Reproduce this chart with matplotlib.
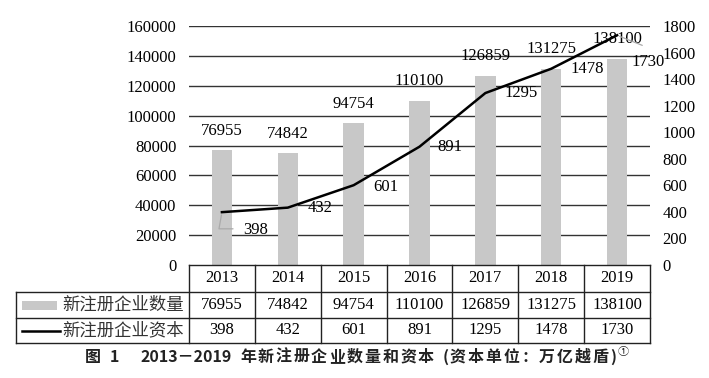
import matplotlib
matplotlib.use("Agg")
import matplotlib.pyplot as plt
from matplotlib.transforms import blended_transform_factory
from matplotlib.lines import Line2D
from matplotlib.patches import Rectangle

years = ["2013", "2014", "2015", "2016", "2017", "2018", "2019"]
firms = [76955, 74842, 94754, 110100, 126859, 131275, 138100]
capital = [398, 432, 601, 891, 1295, 1478, 1730]
left_ticks = [0, 20000, 40000, 60000, 80000, 100000, 120000, 140000, 160000]
right_ticks = [0, 200, 400, 600, 800, 1000, 1200, 1400, 1600, 1800]
series_names = ["新注册企业数量", "新注册企业资本"]
caption_tokens = ["图", " ", "1", " ", " ", " ", "2013－2019", " ", "年", "新", "注", "册", "企", "业",
                  "数", "量", "和", "资", "本", " ", "(", "资", "本", "单", "位", "：", "万", "亿",
                  "越", "盾", ")"]

W, H = 709, 378
SERIF = ["Liberation Serif", "DejaVu Serif"]
CJK = ["Noto Sans CJK SC", "DejaVu Sans"]
BAR_C = "#c8c8c8"
FS = 12

fig = plt.figure(figsize=(W / 100, H / 100), dpi=100)
L, R, T, B = 189, 650, 26, 265
ax = fig.add_axes([L / W, 1 - B / H, (R - L) / W, (B - T) / H])
ax2 = ax.twinx()

n = len(years)
x = list(range(n))
ax.set_xlim(-0.5, n - 0.5)
ax.set_ylim(0, 160000)
ax2.set_ylim(0, 1800)

for yv in left_ticks[1:]:
    ax.axhline(yv, color="#333333", lw=1.0, zorder=0)

ax.bar(x, firms, width=0.31, color=BAR_C, zorder=2)
for xi, v in zip(x, firms):
    ax.annotate(str(v), (xi, v), xytext=(0, 14), textcoords="offset points",
                ha="center", va="center", fontsize=FS, family=SERIF, zorder=5)

ax2.plot(x, capital, color="black", lw=1.8, zorder=4)
offsets = [(24, -13), (23, 0), (23, -1), (22, 0), (26, 0), (26, 0), (22, -19)]
for xi, v, (dx, dy) in zip(x, capital, offsets):
    ax2.annotate(str(v), (xi, v), xytext=(dx, dy), textcoords="offset points",
                 ha="center", va="center", fontsize=FS, family=SERIF, zorder=5)
# leader lines
ax2.annotate("", (0, capital[0]), xytext=(10, -12), textcoords="offset points",
             arrowprops=dict(arrowstyle="-", color="#aaaaaa", lw=0.9,
                             connectionstyle="angle,angleA=0,angleB=80,rad=0"))
ax2.annotate("", (6, capital[6]), xytext=(20, -8), textcoords="offset points",
             arrowprops=dict(arrowstyle="-", color="#aaaaaa", lw=0.9))

for a in (ax, ax2):
    for s in a.spines.values():
        s.set_visible(False)
    a.set_xticks([])
ax.set_yticks(left_ticks)
ax.set_yticklabels([str(t) for t in left_ticks], family=SERIF, fontsize=FS)
ax.tick_params(axis="y", length=0, pad=9)
ax2.set_yticks(right_ticks)
ax2.set_yticklabels([str(t) for t in right_ticks], family=SERIF, fontsize=FS)
ax2.tick_params(axis="y", length=0, pad=9)

# table
tr = blended_transform_factory(ax.transData, fig.transFigure)
def fy(p):
    return 1 - p / H
rows = [265, 292, 318, 343]
xl = -0.5 - (L - 16) / ((R - L) / n)
lc = "#222222"
lw = 1.0
fig.add_artist(Line2D([-0.5, n - 0.5], [fy(rows[0])] * 2, transform=tr, color=lc, lw=lw))
for r in rows[1:]:
    fig.add_artist(Line2D([xl, n - 0.5], [fy(r)] * 2, transform=tr, color=lc, lw=lw))
for i in range(n + 1):
    fig.add_artist(Line2D([i - 0.5] * 2, [fy(rows[0]), fy(rows[3])], transform=tr, color=lc, lw=lw))
fig.add_artist(Line2D([xl] * 2, [fy(rows[1]), fy(rows[3])], transform=tr, color=lc, lw=lw))

for i, yr in enumerate(years):
    fig.text(i, fy((rows[0] + rows[1]) / 2), yr, transform=tr, ha="center", va="center",
             family=SERIF, fontsize=FS)
    fig.text(i, fy((rows[1] + rows[2]) / 2), str(firms[i]), transform=tr, ha="center", va="center",
             family=SERIF, fontsize=FS)
    fig.text(i, fy((rows[2] + rows[3]) / 2), str(capital[i]), transform=tr, ha="center", va="center",
             family=SERIF, fontsize=FS)

fig.text(184 / W, fy((rows[1] + rows[2]) / 2), series_names[0], ha="right", va="center",
         family=CJK, fontsize=12.5, color="#333333")
fig.text(184 / W, fy((rows[2] + rows[3]) / 2), series_names[1], ha="right", va="center",
         family=CJK, fontsize=12.5, color="#333333")
fig.add_artist(Rectangle((22 / W, fy(310)), 35 / W, 9 / H, transform=fig.transFigure,
                         color=BAR_C, lw=0))
fig.add_artist(Line2D([22 / W, 60 / W], [fy(331)] * 2, transform=fig.transFigure,
                      color="black", lw=1.8))

# caption with letter spacing
fig.canvas.draw()
renderer = fig.canvas.get_renderer()
cfs = 11.5
widths = []
for tok in caption_tokens:
    if tok == " ":
        widths.append(cfs * 100 / 72 * 0.3)
        continue
    t = fig.text(0, 0, tok, family=CJK, fontsize=cfs, fontweight="bold")
    widths.append(t.get_window_extent(renderer).width)
    t.remove()
x0, x1 = 85, 616
track = (x1 - x0 - sum(widths)) / (len(caption_tokens) - 1)
cx = x0
for tok, w in zip(caption_tokens, widths):
    if tok != " ":
        fig.text(cx / W, fy(357), tok, ha="left", va="center", family=CJK,
                 fontsize=cfs, fontweight="bold", color="#222222")
    cx += w + track
fig.text((x1 + 2) / W, fy(352), "①", ha="left", va="center", family=CJK,
         fontsize=8, color="#222222")

fig.savefig("out.png", dpi=100)
